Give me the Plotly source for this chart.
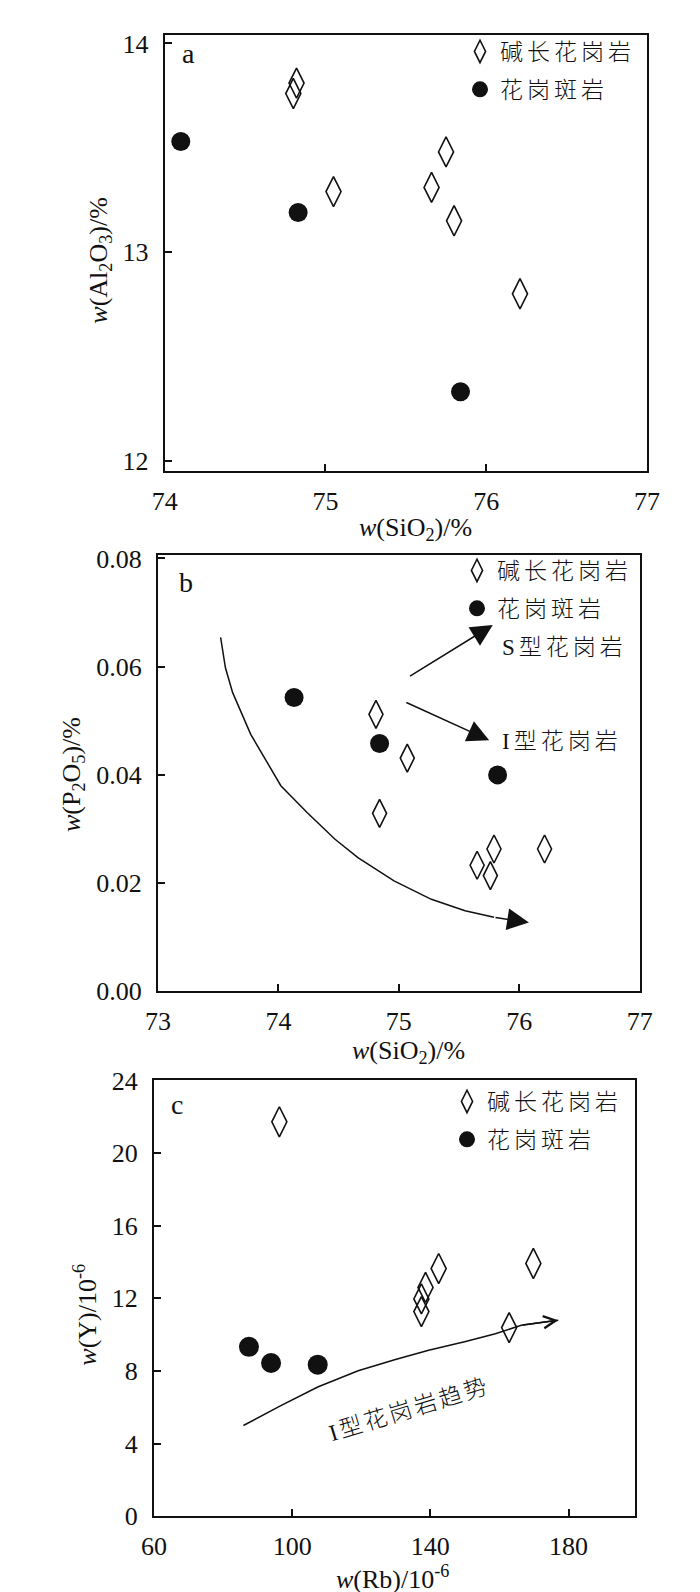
import plotly.graph_objects as go

# ---------------- data ----------------
# panel a : w(SiO2) vs w(Al2O3)
a_alk_sio2 = [74.82, 74.80, 75.75, 75.05, 75.66, 75.80, 76.21]
a_alk_al2o3 = [13.81, 13.76, 13.48, 13.29, 13.31, 13.15, 12.80]
a_por_sio2 = [74.10, 74.83, 75.84]
a_por_al2o3 = [13.53, 13.19, 12.33]

# panel b : w(SiO2) vs w(P2O5)
b_alk_sio2 = [74.81, 75.07, 74.84, 75.79, 76.21, 75.65, 75.76]
b_alk_p2o5 = [0.0512, 0.0431, 0.0329, 0.0263, 0.0263, 0.0233, 0.0214]
b_por_sio2 = [74.13, 74.84, 75.82]
b_por_p2o5 = [0.0543, 0.0458, 0.0400]
b_curve_sio2 = [73.52, 73.56, 73.62, 73.77, 74.02, 74.24, 74.47, 74.66, 74.96, 75.27, 75.55, 75.79]
b_curve_p2o5 = [0.0654, 0.0598, 0.0552, 0.0475, 0.0380, 0.0330, 0.0281, 0.0247, 0.0204, 0.0170, 0.0149, 0.0137]
b_curve_tip = [76.08, 0.0127]
b_s_arrow_tail = [75.08, 0.0581]
b_s_arrow_tip = [75.78, 0.0677]
b_i_arrow_tail = [75.05, 0.0535]
b_i_arrow_tip = [75.75, 0.0464]

# panel c : w(Rb) vs w(Y)
c_alk_rb = [96.3, 142.4, 169.8, 138.6, 137.4, 137.4, 162.8]
c_alk_y = [21.72, 13.64, 13.92, 12.60, 11.97, 11.27, 10.39]
c_por_rb = [87.5, 93.9, 107.4]
c_por_y = [9.33, 8.44, 8.35]
c_curve_rb = [85.9, 96.6, 107.4, 119.1, 129.9, 139.5, 150.2, 158.8, 166.3, 177.0]
c_curve_y = [5.00, 6.08, 7.12, 8.01, 8.63, 9.14, 9.63, 10.05, 10.52, 10.80]

# tick values
a_xticks = [74, 75, 76, 77]
a_yticks = [12, 13, 14]
b_xticks = [73, 74, 75, 76, 77]
b_yticks = [0, 0.02, 0.04, 0.06, 0.08]
c_xticks = [60, 100, 140, 180]
c_yticks = [0, 4, 8, 12, 16, 20, 24]

name_alk = "碱长花岗岩"
name_por = "花岗斑岩"
label_s = "S型花岗岩"
label_i = "I型花岗岩"
label_trend = "I型花岗岩趋势"

# ---------------- styling ----------------
W, H = 700, 1592
FONT = "Liberation Serif, Noto Sans CJK SC, serif"
CJK = "Liberation Serif, Noto Sans CJK SC"
BLACK = "#111111"
TICK = 26
TITLE = 26
CJKSIZE = 23


def sp(s, px=4):
    return f'<span style="letter-spacing:{px}px">{s}</span>'


def px_x(p):
    return p / W


def px_y(p):
    return 1 - p / H


def cjk_font():
    return dict(family=CJK, size=CJKSIZE, color=BLACK, weight=300)


fig = go.Figure()

panels = [
    dict(ax="", alk=(a_alk_sio2, a_alk_al2o3), por=(a_por_sio2, a_por_al2o3),
         dsize=21.5, csize=19, legend="legend"),
    dict(ax="2", alk=(b_alk_sio2, b_alk_p2o5), por=(b_por_sio2, b_por_p2o5),
         dsize=20, csize=19, legend="legend2"),
    dict(ax="3", alk=(c_alk_rb, c_alk_y), por=(c_por_rb, c_por_y),
         dsize=21.5, csize=20, legend="legend3"),
]

for p in panels:
    xa, ya = "x" + p["ax"], "y" + p["ax"]
    fig.add_trace(go.Scatter(
        x=p["alk"][0], y=p["alk"][1], xaxis=xa, yaxis=ya, mode="markers",
        name=sp(name_alk), legend=p["legend"], legendgroup="alk" + p["ax"],
        marker=dict(symbol="diamond-tall-open", size=p["dsize"], color=BLACK,
                    line=dict(width=1.6, color=BLACK)),
        cliponaxis=False))
    fig.add_trace(go.Scatter(
        x=p["por"][0], y=p["por"][1], xaxis=xa, yaxis=ya, mode="markers",
        name=sp(name_por), legend=p["legend"], legendgroup="por" + p["ax"],
        marker=dict(symbol="circle", size=p["csize"], color=BLACK,
                    line=dict(width=0)),
        cliponaxis=False))

# trend curves
fig.add_trace(go.Scatter(x=b_curve_sio2, y=b_curve_p2o5, xaxis="x2", yaxis="y2",
                         mode="lines", line=dict(color=BLACK, width=1.5),
                         showlegend=False, hoverinfo="skip"))
fig.add_trace(go.Scatter(x=c_curve_rb, y=c_curve_y, xaxis="x3", yaxis="y3",
                         mode="lines", line=dict(color=BLACK, width=1.5),
                         showlegend=False, hoverinfo="skip"))

xaxis_common = dict(showline=True, mirror=True, linecolor=BLACK, linewidth=2,
                    ticks="inside", ticklen=7, tickwidth=1.5, tickcolor=BLACK,
                    showgrid=False, zeroline=False, automargin=False,
                    tickfont=dict(family=FONT, size=TICK, color=BLACK),
                    ticklabelstandoff=5)
yaxis_common = dict(xaxis_common, ticklabelstandoff=9)

fig.update_layout(
    template="none",
    width=W, height=H, margin=dict(l=0, r=0, t=0, b=0, autoexpand=False),
    paper_bgcolor="white", plot_bgcolor="white",
    font=dict(family=FONT, size=TITLE, color=BLACK),
    xaxis=dict(xaxis_common, domain=[px_x(156.7), px_x(639)], range=[74, 77],
               tickvals=a_xticks, anchor="y"),
    yaxis=dict(yaxis_common, domain=[px_y(463.3), px_y(26.7)], range=[11.949, 14.042],
               tickvals=a_yticks, anchor="x"),
    xaxis2=dict(xaxis_common, domain=[px_x(150), px_x(631.7)], range=[73, 77],
                tickvals=b_xticks, anchor="y2"),
    yaxis2=dict(yaxis_common, domain=[px_y(983.3), px_y(546.7)], range=[0, 0.0807],
                tickvals=b_yticks, tickformat=".2f", anchor="x2"),
    xaxis3=dict(xaxis_common, domain=[px_x(145.9), px_x(627.3)], range=[60, 199.3],
                tickvals=c_xticks, anchor="y3"),
    yaxis3=dict(yaxis_common, domain=[px_y(1508.3), px_y(1072.4)], range=[0, 24],
                tickvals=c_yticks, anchor="x3"),
)

leg_common = dict(xanchor="left", yanchor="top", bgcolor="rgba(0,0,0,0)",
                  borderwidth=0, font=cjk_font(),
                  tracegroupgap=5, itemsizing="trace")
fig.update_layout(
    legend=dict(leg_common, x=px_x(452), y=px_y(22)),
    legend2=dict(leg_common, x=px_x(449), y=px_y(541)),
    legend3=dict(leg_common, x=px_x(439), y=px_y(1072)),
)

ann = []
# panel letters
ann.append(dict(text="a", x=74.145, y=13.954, xref="x", yref="y", showarrow=False,
                font=dict(family=FONT, size=28)))
ann.append(dict(text="b", x=73.23, y=0.0755, xref="x2", yref="y2", showarrow=False,
                font=dict(family=FONT, size=28)))
ann.append(dict(text="c", x=66.6, y=22.7, xref="x3", yref="y3", showarrow=False,
                font=dict(family=FONT, size=28)))

# axis titles
title_common = dict(xref="paper", yref="paper", showarrow=False,
                    xanchor="center", yanchor="middle", font=dict(size=TITLE))
ann.append(dict(title_common, text="<i>w</i>(SiO<sub>2</sub>)/%",
                x=px_x(407), y=px_y(521)))
ann.append(dict(title_common, text="<i>w</i>(Al<sub>2</sub>O<sub>3</sub>)/%",
                x=px_x(91.7), y=px_y(252), textangle=-90))
ann.append(dict(title_common, text="<i>w</i>(SiO<sub>2</sub>)/%",
                x=px_x(400), y=px_y(1044)))
ann.append(dict(title_common, text="<i>w</i>(P<sub>2</sub>O<sub>5</sub>)/%",
                x=px_x(65), y=px_y(767), textangle=-90))
ann.append(dict(title_common, text="<i>w</i>(Rb)/10<sup>-6</sup>",
                x=px_x(384), y=px_y(1569)))
ann.append(dict(title_common, text="<i>w</i>(Y)/10<sup>-6</sup>",
                x=px_x(76.7), y=px_y(1307), textangle=-90))

# panel b arrows and labels
for tail, tip in [(b_s_arrow_tail, b_s_arrow_tip), (b_i_arrow_tail, b_i_arrow_tip),
                  ([b_curve_sio2[-1], b_curve_p2o5[-1]], b_curve_tip)]:
    ann.append(dict(text="", x=tip[0], y=tip[1], ax=tail[0], ay=tail[1],
                    xref="x2", yref="y2", axref="x2", ayref="y2",
                    showarrow=True, arrowhead=2, arrowsize=2.9, arrowwidth=1.5,
                    arrowcolor=BLACK, standoff=0, startstandoff=0))
ann.append(dict(text=sp(label_s), x=75.84, y=0.0635, xref="x2", yref="y2",
                xanchor="left", yanchor="middle", showarrow=False, font=cjk_font()))
ann.append(dict(text=sp(label_i), x=75.84, y=0.0462, xref="x2", yref="y2",
                xanchor="left", yanchor="middle", showarrow=False, font=cjk_font()))

# panel c arrow and label
ann.append(dict(text="", x=c_curve_rb[-1], y=c_curve_y[-1], ax=c_curve_rb[-2],
                ay=c_curve_y[-2], xref="x3", yref="y3", axref="x3", ayref="y3",
                showarrow=True, arrowhead=5, arrowsize=1.6, arrowwidth=1.5,
                arrowcolor=BLACK, standoff=0, startstandoff=0))
ann.append(dict(text=sp(label_trend, 3), x=134.1, y=5.89, xref="x3", yref="y3",
                xanchor="center", yanchor="middle",
                showarrow=False, textangle=-17, font=cjk_font()))

fig.update_layout(annotations=ann)

fig.write_html("out.html")
